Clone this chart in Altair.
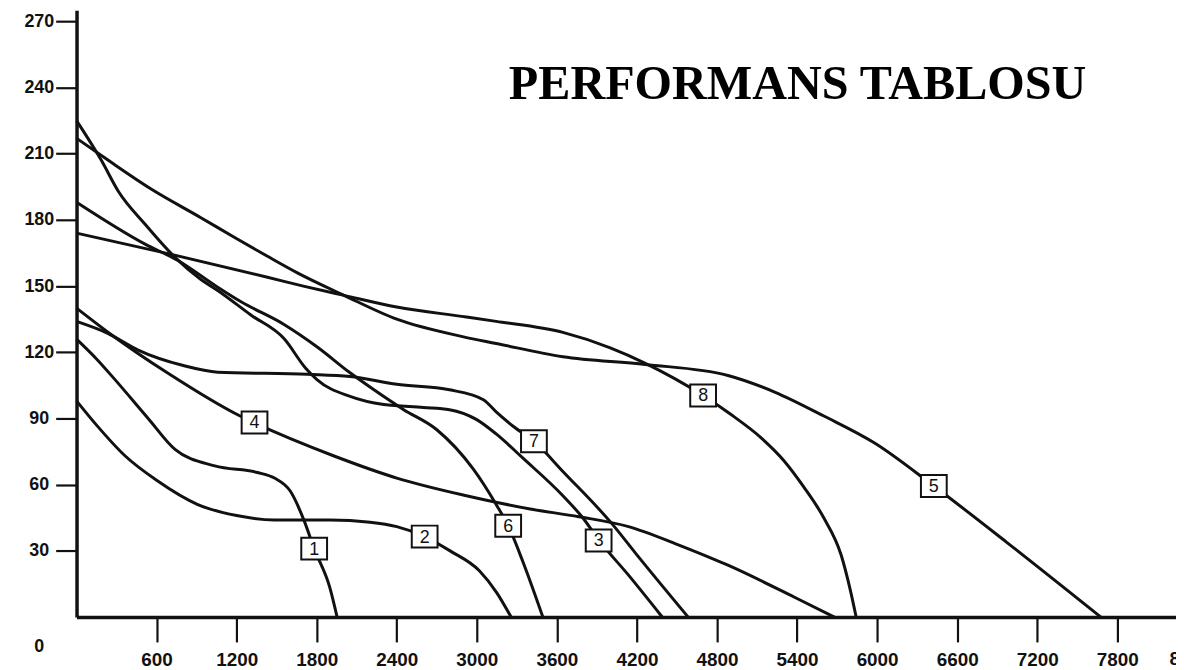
import altair as alt
import pandas as pd

# ---- data (x axis 0..8400, y axis 0..270) ----
c1_x = [0, 150, 290, 537, 738, 1036, 1357, 1483, 1603, 1707, 1781, 1900, 1953]
c1_y = [126, 117, 107.5, 90, 76, 68.5, 65.5, 63, 57, 43.5, 31, 13, 0]

c2_x = [0, 150, 365, 600, 909, 1200, 1483, 1900, 2200, 2400, 2609, 2800, 3019, 3150, 3257]
c2_y = [98, 87, 73, 62, 51, 46, 44, 44, 43, 41, 36.5, 30, 21, 11, 0]

c3_x = [0, 186, 313, 514, 738, 932, 1058, 1304, 1558, 1714, 1804, 2050, 2303, 2600, 2795, 2996, 3145, 3346, 3645, 3794, 3913, 4137, 4390]
c3_y = [225, 207, 193, 178, 163, 153, 148, 137, 126, 113, 107.5, 100, 96.3, 95, 94, 89.6, 83, 72, 55, 45, 35, 19, 0]

c4_x = [0, 238, 686, 1230, 1334, 1930, 2400, 2922, 3400, 3764, 4137, 4500, 4882, 5381, 5680]
c4_y = [140, 129, 110.5, 91, 88, 73, 63, 55, 49, 45.5, 41, 33, 23.5, 9, 0]

c5_x = [0, 238, 559, 932, 1185, 1431, 1655, 2005, 2400, 2900, 3145, 3645, 4263, 4882, 5232, 5605, 5978, 6425, 6969, 7677]
c5_y = [217, 207, 194, 181, 172, 163.5, 156, 145.8, 135, 127, 124, 118, 114.5, 109.5, 102, 91, 79, 59.4, 34, 0]

c6_x = [0, 514, 760, 1058, 1230, 1558, 1804, 2050, 2229, 2452, 2698, 2974, 3145, 3235, 3346, 3495]
c6_y = [188, 169, 161.6, 149.5, 143, 132.5, 122.4, 110.7, 103, 94, 85, 67, 51, 41.4, 25, 0]

c7_x = [0, 238, 462, 800, 1058, 1730, 2050, 2400, 2795, 3049, 3145, 3272, 3428, 3645, 4017, 4189, 4584]
c7_y = [134, 128.5, 121, 114, 111, 110, 109, 105.5, 103, 98.5, 93, 86.5, 79.7, 66, 42, 29, 0]

c8_x = [0, 686, 1431, 1700, 2005, 2400, 2922, 3145, 3645, 4000, 4263, 4696, 4900, 5135, 5300, 5450, 5600, 5731, 5800, 5843]
c8_y = [174, 164.7, 154, 150, 145.8, 140.5, 136, 134, 129, 122, 115, 100.4, 92, 81, 71, 59, 45, 28, 12, 0]

box_names = ["1", "2", "3", "4", "5", "6", "7", "8"]
box_x = [1781, 2609, 3913, 1334, 6425, 3235, 3428, 4696]
box_y = [31, 36.5, 34.7, 88.2, 59.4, 41.4, 79.7, 100.4]

x_ticks = [600, 1200, 1800, 2400, 3000, 3600, 4200, 4800, 5400, 6000, 6600, 7200, 7800]
x_cut_label = [8400]          # last tick label, cut by the right edge as in the reference
y_ticks = [0, 30, 60, 90, 120, 150, 180, 210, 240, 270]

title_text = "PERFORMANS TABLOSU"

# ---- build tables ----
curves = {"1": (c1_x, c1_y), "2": (c2_x, c2_y), "3": (c3_x, c3_y), "4": (c4_x, c4_y),
          "5": (c5_x, c5_y), "6": (c6_x, c6_y), "7": (c7_x, c7_y), "8": (c8_x, c8_y)}
rows = []
for name, (xs, ys) in curves.items():
    for i, (a, b) in enumerate(zip(xs, ys)):
        rows.append({"curve": name, "i": i, "x": a, "y": b})
lines_df = pd.DataFrame(rows)
boxes_df = pd.DataFrame({"name": box_names, "x": box_x, "y": box_y})
cut_df = pd.DataFrame({"x": x_cut_label, "t": [str(v) for v in x_cut_label]})

W, H = 1107, 611
XMAX = 8240
YMAX = 275
FONT = "Liberation Sans"
INK = "#111"

xscale = alt.Scale(domain=[0, XMAX], nice=False, zero=False)
yscale = alt.Scale(domain=[0, YMAX], nice=False, zero=False)

x_axis = alt.Axis(values=x_ticks, format="d", title=None, grid=False, tickSize=25, tickWidth=2.2,
                  tickColor=INK, domainColor=INK, domainWidth=3.5,
                  labelFont=FONT, labelFontSize=19, labelFontWeight="bold", labelColor=INK,
                  labelPadding=9, labelFlush=False, labelOverlap=False)
y_axis = alt.Axis(values=y_ticks, format="d", title=None, grid=False, tickSize=21, tickWidth=2.2,
                  tickColor=INK, domainColor=INK, domainWidth=3.5,
                  tickOpacity=alt.condition("datum.value == 0", alt.value(0), alt.value(1)),
                  labelOffset=alt.condition("datum.value == 0", alt.value(30), alt.value(0)),
                  labelFont=FONT, labelFontSize=18, labelFontWeight="bold", labelColor=INK,
                  labelAlign="center", labelPadding=17, labelFlush=False, labelOverlap=False)

lines = alt.Chart(lines_df).mark_line(color=INK, strokeWidth=3, interpolate="monotone").encode(
    x=alt.X("x:Q", scale=xscale, axis=x_axis),
    y=alt.Y("y:Q", scale=yscale, axis=y_axis),
    detail="curve:N",
    order="i:Q",
)

boxes = alt.Chart(boxes_df).mark_point(
    shape="M-1.18,-1H1.18V1H-1.18Z", size=484, filled=True, fill="white",
    stroke=INK, strokeWidth=2, opacity=1
).encode(x=alt.X("x:Q", scale=xscale), y=alt.Y("y:Q", scale=yscale))

box_text = alt.Chart(boxes_df).mark_text(
    font=FONT, fontSize=18, color=INK, align="center", baseline="middle", dy=1
).encode(x=alt.X("x:Q", scale=xscale), y=alt.Y("y:Q", scale=yscale), text="name:N")

cut_label = alt.Chart(cut_df).mark_text(
    font=FONT, fontSize=19, fontWeight="bold", color=INK, align="center",
    baseline="middle", dx=-7, clip=False
).encode(x=alt.X("x:Q", scale=xscale), y=alt.value(H + 42), text="t:N")

title = alt.Chart(pd.DataFrame({"t": [title_text]})).mark_text(
    font="Liberation Serif", fontSize=48.5, fontWeight="bold", color="#000",
    align="center", baseline="alphabetic"
).encode(x=alt.value(726), y=alt.value(89), text="t:N")

chart = alt.layer(lines, boxes, box_text, cut_label, title).properties(
    width=W, height=H,
    autosize=alt.AutoSizeParams(type="none"),
    padding={"left": 69, "top": 0, "right": 0, "bottom": 50},
    background="white",
).configure_view(stroke=None)

chart.save("out.html", embed_options={"renderer": "svg", "actions": False})
